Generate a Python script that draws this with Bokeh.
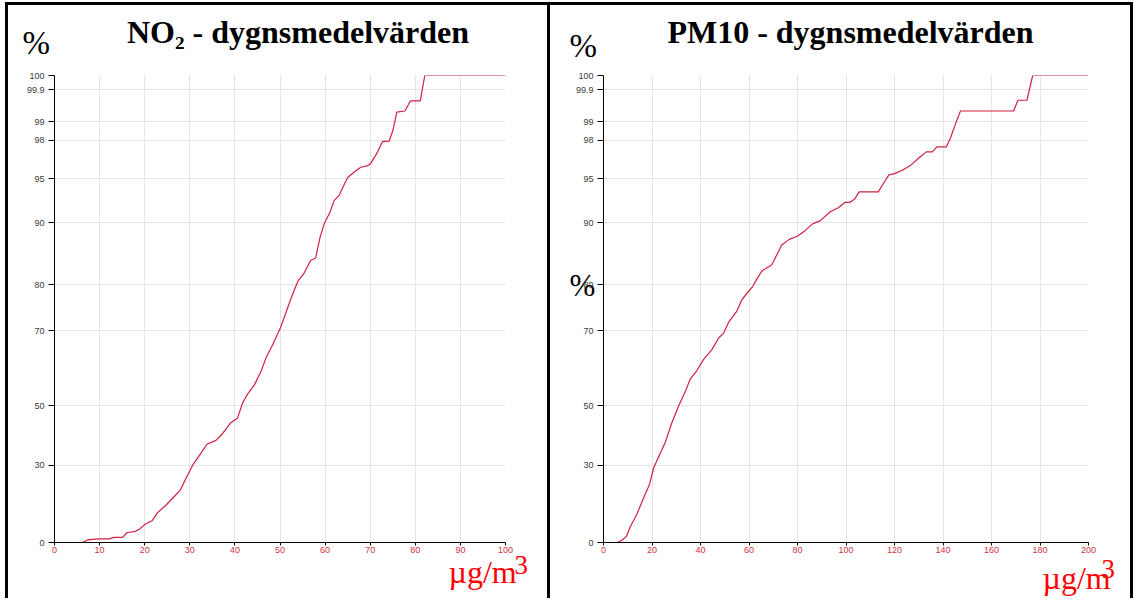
import numpy as np
from bokeh.plotting import figure
from bokeh.models import Range1d, FixedTicker
from bokeh.layouts import row, column
from bokeh.core.properties import value
from bokeh.embed import file_html
from bokeh.resources import INLINE

# ---- probability-style y scale (tick value -> relative position, per mille) ----
PCT_TICKS = [0, 30, 50, 70, 80, 90, 95, 98, 99, 99.9, 100]
PCT_LABELS = ["0", "30", "50", "70", "80", "90", "95", "98", "99", "99.9", "100"]
SCALE_POS = [0, 165, 293, 453, 552, 685, 779, 861, 901, 970, 1000]

# ---- NO2 daily means: concentration (µg/m3) vs cumulative percent ----
NO2_X = [0, 6.2, 7.3, 9.9, 12.1, 13.2, 15.1, 16.1, 17.7, 18.8, 20.1, 21.7, 22.9,
         24.7, 26.5, 27.9, 29.1, 30.6, 32.1, 33.8, 35.8, 37.3, 39.1, 40.6, 41.7,
         42.8, 44.3, 45.8, 46.9, 48.4, 50.1, 51.4, 52.4, 53.1, 54.0, 55.2, 56.8,
         57.9, 58.9, 59.8, 61.1, 62.0, 63.1, 64.1, 65.0, 66.4, 67.9, 69.3, 70.1,
         71.5, 72.7, 74.2, 75.0, 75.9, 77.7, 78.9, 81.1, 82.1, 100]
NO2_PCT = [0, 0, 1.0, 1.4, 1.4, 2.0, 2.0, 3.9, 4.2, 5.1, 7.1, 8.6, 11.7,
           14.5, 17.8, 20.4, 24.8, 30.0, 33.3, 37.1, 38.4, 40.7, 44.3, 45.9, 50.7,
           53.1, 55.5, 59.2, 62.8, 66.4, 70.7, 74.2, 76.9, 78.7, 80.6, 81.7, 83.9,
           84.3, 87.7, 89.8, 91.2, 92.5, 93.1, 94.2, 95.1, 95.5, 95.9, 96.0, 96.2,
           97.0, 97.9, 97.95, 98.5, 99.27, 99.3, 99.58, 99.58, 100, 100]

# ---- PM10 daily means ----
PM10_X = [0, 5.6, 7.5, 9.5, 11.1, 13.8, 16.6, 19.0, 20.7, 23.4, 25.5, 28.2, 31.0,
          33.7, 35.8, 38.5, 41.3, 44.7, 47.5, 49.5, 51.6, 55.0, 57.1, 59.1, 61.5,
          63.2, 65.3, 69.4, 73.5, 76.6, 79.9, 83.1, 86.2, 89.3, 93.4, 96.8, 99.5,
          101.6, 103.6, 105.4, 113.3, 115.3, 117.7, 120.1, 123.6, 127.0, 130.5,
          133.1, 135.6, 137.5, 141.4, 143.0, 145.2, 147.2, 169.1, 170.9, 174.6,
          177.0, 200]
PM10_PCT = [0, 0, 0.8, 2.5, 6.2, 11.1, 17.5, 22.7, 29.1, 34.1, 37.8, 44.3, 50.0,
            53.7, 57.2, 59.4, 62.4, 65.0, 68.1, 69.4, 71.9, 74.3, 76.8, 78.1, 79.6,
            80.9, 82.2, 83.2, 86.4, 87.3, 87.8, 88.7, 89.8, 90.2, 91.2, 91.7, 92.3,
            92.3, 92.7, 93.5, 93.5, 94.4, 95.3, 95.4, 95.7, 96.1, 96.7,
            97.1, 97.1, 97.5, 97.5, 98.1, 98.9, 99.3, 99.3, 99.6, 99.6,
            100, 100]

NO2_XTICKS = list(range(0, 101, 10))
PM10_XTICKS = list(range(0, 201, 20))

TITLES = ["NO₂ - dygnsmedelvärden", "PM10 - dygnsmedelvärden"]
Y_UNIT = "%"
X_UNIT = "µg/m"
X_UNIT_SUP = "3"

assert len(NO2_X) == len(NO2_PCT)
assert len(PM10_X) == len(PM10_PCT)

LINE_RED = "#d0213f"
TICK_RED = "#cc3344"
SERIF = "Liberation Serif"
SANS = "Liberation Sans"
H = 596
SHIFT = 12  # measured vertical offset of the overlay canvas


def to_scale(pct):
    return np.interp(pct, PCT_TICKS, SCALE_POS)


def panel(width, xmax, xticks, xs, pcts, borders, mb):
    left, right, top, bottom = mb
    p = figure(width=width, height=H, output_backend="svg", toolbar_location=None,
               x_range=Range1d(0, xmax), y_range=Range1d(0, 1000),
               min_border_left=left, min_border_right=right,
               min_border_top=top, min_border_bottom=bottom)
    p.background_fill_alpha = 0
    p.border_fill_alpha = 0
    p.outline_line_color = None
    p.styles = {"box-shadow": borders}

    p.xaxis.ticker = FixedTicker(ticks=xticks)
    p.yaxis.ticker = FixedTicker(ticks=SCALE_POS)
    p.yaxis.major_label_overrides = {k: v for k, v in zip(SCALE_POS, PCT_LABELS)}
    for ax in (p.xaxis[0], p.yaxis[0]):
        ax.axis_line_color = "#000000"
        ax.axis_line_width = 1
        ax.major_tick_line_color = "#000000"
        ax.major_tick_in = 0
        ax.minor_tick_line_color = None
        ax.major_label_text_font = SANS
        ax.major_label_text_font_size = "9px"
    p.yaxis.major_tick_out = 6
    p.yaxis.major_label_standoff = 4
    p.yaxis.major_label_text_color = "#3a3a3a"
    p.xaxis.major_tick_out = 3
    p.xaxis.major_label_standoff = 1
    p.xaxis.major_label_text_color = TICK_RED

    p.xgrid.ticker = FixedTicker(ticks=xticks)
    p.ygrid.ticker = FixedTicker(ticks=SCALE_POS)
    for g in (p.xgrid[0], p.ygrid[0]):
        g.grid_line_color = "#e4e4e4"
        g.grid_line_width = 1

    p.line(xs, to_scale(pcts), line_color=LINE_RED, line_width=1.2)
    return p


left = panel(545, 100, NO2_XTICKS, NO2_X, NO2_PCT,
             "inset 3px 0 0 0 #000, inset 0 3px 0 0 #000, inset -3px 0 0 0 #000",
             (49, 45, 73, H - 540))
right = panel(583, 200, PM10_XTICKS, PM10_X, PM10_PCT,
              "inset 0 3px 0 0 #000, inset -3px 0 0 0 #000",
              (53, 45, 73, H - 550))

# ---- transparent overlay carrying the free texts (page pixel coordinates) ----
ov = figure(width=1128, height=H, output_backend="svg", toolbar_location=None,
            x_range=Range1d(5, 1133), y_range=Range1d(2 + SHIFT + H, 2 + SHIFT),
            x_axis_location=None, y_axis_location=None,
            min_border=0, margin=(-H, 0, 0, 0))
ov.background_fill_alpha = 0
ov.border_fill_alpha = 0
ov.outline_line_color = None
for g in ov.grid:
    g.visible = False


def txt(x, y, t, size, color="#000000", style="normal", align="left"):
    ov.text(x=[x], y=[y], text=[t], text_font=value(SERIF), text_font_size=size,
            text_color=color, text_font_style=style, text_align=align,
            text_baseline="alphabetic")


txt(297.5, 43, TITLES[0], "32px", style="bold", align="center")
txt(850, 43, TITLES[1], "32px", style="bold", align="center")
txt(22, 54, Y_UNIT, "33px")
txt(569, 57, Y_UNIT, "33px")
txt(569, 297, Y_UNIT, "31px")
txt(448, 583, X_UNIT, "32px", color="#ff0000")
txt(514, 576, X_UNIT_SUP, "27px", color="#ff0000")
txt(1042, 589, X_UNIT, "32px", color="#ff0000")
txt(1101, 580, X_UNIT_SUP, "27px", color="#ff0000")

layout = column(row(left, right), ov, margin=(2, 0, 0, 5))
open("out.html", "w").write(file_html(layout, INLINE))
